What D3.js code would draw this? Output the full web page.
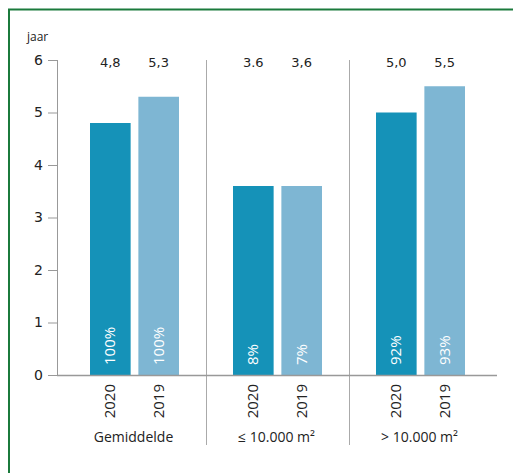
<!DOCTYPE html>
<html>
<head>
<meta charset="utf-8">
<script src="https://cdn.jsdelivr.net/npm/d3@7"></script>
<style>
  body { margin: 0; background: #fff; }
  svg { font-family: "Open Sans", sans-serif; }
</style>
</head>
<body>
<div id="chart"></div>
<script>
// Data
const groups = ['Gemiddelde', '≤ 10.000 m²', '> 10.000 m²'];
const years = ['2020', '2019'];
const values2020 = [4.8, 3.6, 5.0];
const values2019 = [5.3, 3.6, 5.5];
const labels2020 = ['4,8', '3.6', '5,0'];
const labels2019 = ['5,3', '3,6', '5,5'];
const shares2020 = ['100%', '8%', '92%'];
const shares2019 = ['100%', '7%', '93%'];
const yTicks = [0, 1, 2, 3, 4, 5, 6];

const colors = {'2020': '#1592b8', '2019': '#7eb6d3'};

const rows = [];
groups.forEach((g, i) => {
    rows.push({group: g, year: '2020', value: values2020[i], label: labels2020[i], share: shares2020[i]});
    rows.push({group: g, year: '2019', value: values2019[i], label: labels2019[i], share: shares2019[i]});
});

const width = 513, height = 473;

const svg = d3.select('#chart')
    .append('svg')
    .attr('width', width)
    .attr('height', height);

// Green frame (runs off right and bottom)
svg.append('rect')
    .attr('x', 9)
    .attr('y', 9.5)
    .attr('width', 520)
    .attr('height', 480)
    .attr('fill', 'none')
    .attr('stroke', '#1b7a3c')
    .attr('stroke-width', 2);

// Scales
const x0 = d3.scaleBand()
    .domain(groups)
    .range([63, 492]);

const x1 = d3.scaleBand()
    .domain(years)
    .range([27, 116])
    .paddingInner(0.16);

const y = d3.scaleLinear()
    .domain([0, 6])
    .range([375, 60]);

// Y axis
const yAxis = d3.axisLeft(y)
    .tickValues(yTicks)
    .tickSize(9)
    .tickPadding(5)
    .tickFormat(d3.format('d'));

const yG = svg.append('g')
    .attr('transform', 'translate(57,0)')
    .call(yAxis);
yG.select('.domain').remove();
yG.selectAll('line').attr('stroke', '#999');
yG.selectAll('text')
    .attr('fill', '#222')
    .style('font-family', '"DejaVu Sans", sans-serif')
    .style('font-size', '14px');

svg.append('line')
    .attr('x1', 57.5).attr('x2', 57.5)
    .attr('y1', y(6)).attr('y2', y(0))
    .attr('stroke', '#999');

svg.append('text')
    .attr('x', 27)
    .attr('y', 41)
    .attr('fill', '#222')
    .style('font-size', '12px')
    .text('jaar');

// Group separators
svg.selectAll('.sep')
    .data(groups.slice(1))
    .enter()
    .append('line')
    .attr('class', 'sep')
    .attr('x1', d => x0(d) + 0.5)
    .attr('x2', d => x0(d) + 0.5)
    .attr('y1', y(6))
    .attr('y2', 445)
    .attr('stroke', '#aaa');

// Bars
svg.selectAll('.bar')
    .data(rows)
    .enter()
    .append('rect')
    .attr('class', 'bar')
    .attr('x', d => x0(d.group) + x1(d.year))
    .attr('y', d => y(d.value))
    .attr('width', x1.bandwidth())
    .attr('height', d => y(0) - y(d.value))
    .attr('fill', d => colors[d.year]);

// X baseline
svg.append('line')
    .attr('x1', 57).attr('x2', 497)
    .attr('y1', y(0) + 0.5).attr('y2', y(0) + 0.5)
    .attr('stroke', '#999')
    .attr('stroke-width', 1.5);

const cx = d => x0(d.group) + x1(d.year) + x1.bandwidth() / 2;

// Value labels above
svg.selectAll('.val')
    .data(rows)
    .enter()
    .append('text')
    .attr('class', 'val')
    .attr('x', cx)
    .attr('y', 67)
    .attr('text-anchor', 'middle')
    .attr('fill', '#222')
    .style('font-family', '"DejaVu Sans", sans-serif')
    .style('font-size', '13px')
    .text(d => d.label);

// Share labels inside bars
svg.selectAll('.share')
    .data(rows)
    .enter()
    .append('text')
    .attr('class', 'share')
    .attr('transform', d => `translate(${cx(d) + 5},${y(0) - 10}) rotate(-90)`)
    .attr('fill', '#fff')
    .style('font-size', '15px')
    .text(d => d.share);

// Year labels below
svg.selectAll('.year')
    .data(rows)
    .enter()
    .append('text')
    .attr('class', 'year')
    .attr('transform', d => `translate(${cx(d) + 5},${y(0) + 9}) rotate(-90)`)
    .attr('text-anchor', 'end')
    .attr('fill', '#222')
    .style('font-size', '15px')
    .text(d => d.year);

// Group labels
svg.selectAll('.grp')
    .data(groups)
    .enter()
    .append('text')
    .attr('class', 'grp')
    .attr('x', d => x0(d) + x0.bandwidth() / 2 - 1)
    .attr('y', 442)
    .attr('text-anchor', 'middle')
    .attr('fill', '#222')
    .style('font-size', '14px')
    .text(d => d);
</script>
</body>
</html>
